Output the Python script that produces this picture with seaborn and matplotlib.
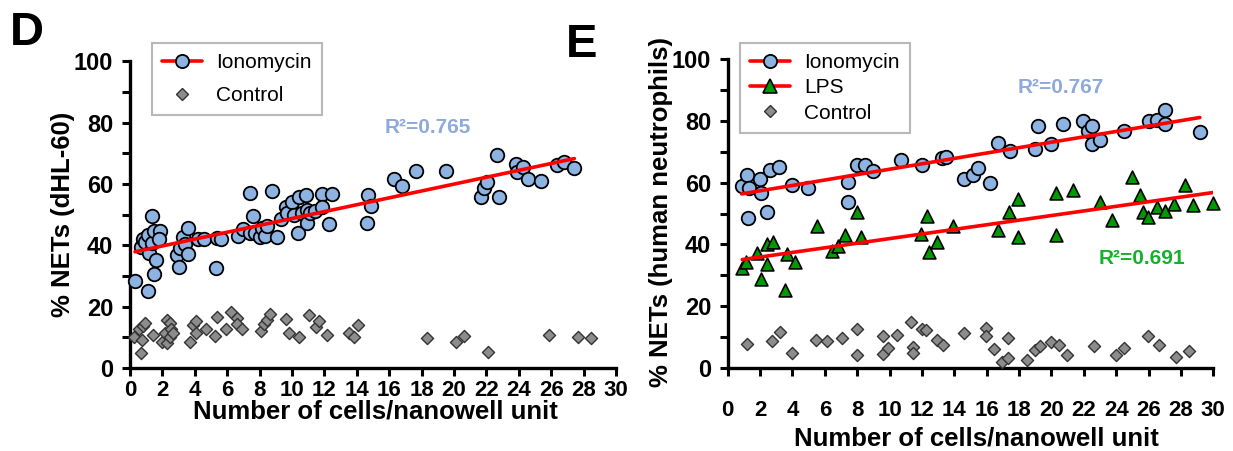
import numpy as np
import pandas as pd
import matplotlib
matplotlib.use("Agg")
import matplotlib.pyplot as plt
from matplotlib.lines import Line2D
import seaborn as sns

# ---- Panel D: dHL-60 cells ----
d_iono_x = [0.31, 0.66, 0.78, 0.93, 1.13, 1.19, 1.13, 1.34, 1.36, 1.50, 1.61, 1.50, 1.85, 1.81,
            2.92, 3.04, 3.09, 3.25, 3.40, 3.56, 3.60, 4.22, 4.57, 5.35, 5.62, 5.31, 6.69, 6.96,
            7.41, 7.57, 7.41, 7.72, 8.02, 8.13, 8.33, 8.44, 8.74, 9.09, 9.32, 9.61, 9.67, 9.98,
            10.12, 10.39, 10.45, 10.60, 10.86, 10.95, 10.95, 11.10, 11.42, 11.83, 11.87, 12.31,
            12.45, 14.61, 14.67, 14.88, 16.30, 16.77, 17.65, 19.49, 21.67, 21.87, 22.06, 22.63,
            22.78, 23.83, 23.87, 24.24, 24.55, 25.35, 26.34, 26.81, 27.43]
d_iono_y = [28.5, 39.3, 42.0, 41.2, 43.4, 37.6, 25.2, 40.6, 49.7, 44.8, 35.2, 30.5, 44.8, 42.1,
            36.8, 33.0, 39.0, 42.8, 40.5, 45.5, 37.2, 42.1, 42.1, 42.3, 42.1, 32.5, 43.0, 45.2,
            57.2, 49.6, 44.1, 44.1, 42.6, 45.5, 43.0, 46.3, 57.8, 42.6, 48.5, 52.4, 50.6, 54.2,
            49.9, 44.1, 55.6, 50.4, 56.4, 51.5, 47.4, 50.4, 51.3, 56.7, 52.6, 47.0,
            56.7, 47.4, 56.4, 52.8, 61.5, 59.3, 64.2, 64.2, 55.6, 58.6, 60.5, 69.4,
            55.6, 66.5, 64.0, 65.6, 61.5, 61.0, 66.2, 67.3, 65.1]

d_ctrl_x = [0.25, 0.58, 0.72, 0.78, 0.93, 0.66, 1.40, 1.96, 2.16, 2.26, 2.26, 2.47, 2.47, 2.51,
            2.68, 3.70, 3.87, 4.07, 4.07, 4.69, 5.25, 5.39, 5.93, 6.24, 6.63, 6.63, 6.90, 8.09,
            8.27, 8.44, 8.64, 9.63, 9.82, 10.45, 11.07, 11.48, 11.69, 12.18, 13.54, 13.83, 14.09,
            18.31, 20.10, 20.60, 22.08, 25.88, 27.67, 28.46]
d_ctrl_y = [10.0, 12.6, 9.1, 13.7, 14.6, 5.0, 10.8, 8.6, 11.3, 15.6, 8.1, 14.6, 10.2, 12.6,
            11.5, 8.6, 14.0, 15.3, 11.5, 12.8, 10.4, 16.7, 12.7, 18.4, 16.2, 14.4, 12.6, 12.2,
            14.4, 15.7, 17.6, 15.9, 11.5, 10.2, 17.3, 13.3, 15.3, 10.8, 11.5, 10.0, 14.0,
            9.7, 8.4, 10.4, 5.1, 10.8, 10.2, 9.9]

# ---- Panel E: human neutrophils ----
e_iono_x = [0.86, 1.17, 1.34, 1.23, 2.00, 2.04, 2.41, 2.61, 3.19, 3.95, 4.94, 7.45, 7.45, 7.97,
            8.48, 8.99, 10.69, 11.98, 13.22, 13.49, 14.61, 15.17, 15.48, 16.20, 16.72, 17.44,
            18.98, 19.19, 19.97, 20.73, 21.97, 22.23, 22.48, 22.48, 23.00, 24.48, 26.04, 26.50,
            27.01, 27.01, 29.17]
e_iono_y = [58.9, 62.4, 58.3, 48.5, 61.3, 56.7, 50.4, 64.0, 64.9, 59.3, 58.3, 60.2, 53.7, 65.6,
            65.6, 63.8, 67.3, 65.6, 67.8, 68.4, 61.0, 62.6, 64.8, 59.7, 72.7, 70.3,
            70.9, 78.4, 72.4, 79.0, 79.8, 76.7, 78.4, 72.4, 73.8, 76.8, 79.8, 80.3,
            83.6, 78.9, 76.3]

e_lps_x = [0.90, 1.10, 1.79, 2.06, 2.41, 2.41, 2.82, 3.54, 3.64, 4.16, 5.50, 6.42, 6.83, 7.25,
           7.97, 8.23, 11.94, 12.29, 12.43, 12.95, 13.94, 16.72, 17.38, 17.95, 17.95, 20.26,
           20.26, 21.31, 23.00, 23.72, 24.99, 25.47, 25.67, 25.98, 26.54, 27.01, 27.59, 28.25,
           28.72, 29.96]
e_lps_y = [32.5, 34.3, 37.2, 28.7, 33.6, 40.1, 40.7, 25.4, 36.8, 34.3, 45.9, 37.9, 39.6, 43.1,
           50.4, 42.3, 43.4, 49.1, 37.4, 40.9, 46.1, 44.7, 50.4, 54.8, 42.3, 56.6,
           43.0, 57.5, 53.7, 48.0, 61.8, 56.1, 50.4, 48.8, 52.1, 50.8, 53.1, 59.3,
           52.6, 53.5]

e_ctrl_x = [1.17, 2.72, 3.23, 3.95, 5.45, 6.15, 7.04, 7.97, 7.97, 9.61, 9.61, 9.92, 10.44, 11.32,
            11.47, 11.47, 11.98, 12.23, 12.95, 13.32, 14.61, 15.95, 15.95, 16.47, 16.93, 17.29,
            17.34, 18.47, 18.98, 19.29, 19.95, 20.48, 20.98, 22.65, 23.98, 24.48, 25.98, 26.66,
            27.69, 28.51]
e_ctrl_y = [7.7, 8.8, 11.6, 5.0, 9.1, 8.9, 9.9, 12.7, 4.2, 10.4, 4.6, 6.4, 10.8, 14.8,
            6.7, 4.8, 12.6, 12.4, 9.1, 7.5, 11.5, 12.9, 10.4, 6.1, 1.9, 9.7,
            3.2, 2.8, 5.9, 7.2, 8.6, 7.5, 4.2, 7.2, 4.2, 6.4, 10.5, 7.5,
            3.7, 5.5]

x_ticks = list(range(0, 31, 2))
y_ticks = [0, 20, 40, 60, 80, 100]
x_label = "Number of cells/nanowell unit"
d_ylabel = "% NETs (dHL-60)"
e_ylabel = "% NETs (human neutrophils)"
d_r2 = "R²=0.765"
e_r2_iono = "R²=0.767"
e_r2_lps = "R²=0.691"

BLUE = "#8DB3E2"
GREEN = "#009A00"
GRAY = "#8C8C8C"
RED = "#FF0000"
R2_BLUE = "#8EA9DB"
R2_GREEN = "#12B22A"

sns.set_style("ticks")
plt.rcParams["font.family"] = ["Liberation Sans", "DejaVu Sans"]
plt.rcParams.update({
    "text.color": "black",
    "axes.labelcolor": "black",
    "axes.edgecolor": "black",
    "xtick.color": "black",
    "ytick.color": "black",
})

fig = plt.figure(figsize=(12.33, 4.51), dpi=100)
axD = fig.add_axes([0.10543, 0.18404, 0.39416, 0.68004])
axE = fig.add_axes([0.5902, 0.1836, 0.3938, 0.6860])

CIRC = dict(marker="o", s=95, color=BLUE, edgecolor="black", linewidth=1.3)
TRI = dict(marker="^", s=85, color=GREEN, edgecolor="black", linewidth=1.2)
DIAM = dict(marker="D", s=38, color=GRAY, edgecolor="#333333", linewidth=1.0)


def scatter(ax, x, y, style):
    sns.scatterplot(x=x, y=y, ax=ax, legend=False, zorder=3, clip_on=False, **style)


def fit(ax, x, y):
    sns.regplot(x=x, y=y, ax=ax, scatter=False, ci=None, truncate=True,
                line_kws=dict(color=RED, lw=2.6, zorder=4))


scatter(axD, d_ctrl_x, d_ctrl_y, DIAM)
scatter(axD, d_iono_x, d_iono_y, CIRC)
fit(axD, d_iono_x, d_iono_y)

scatter(axE, e_ctrl_x, e_ctrl_y, DIAM)
scatter(axE, e_lps_x, e_lps_y, TRI)
scatter(axE, e_iono_x, e_iono_y, CIRC)
fit(axE, e_iono_x, e_iono_y)
fit(axE, e_lps_x, e_lps_y)

for ax, ylab in ((axD, d_ylabel), (axE, e_ylabel)):
    ax.set_xlim(0, 30)
    ax.set_ylim(0, 100)
    ax.set_xticks(x_ticks)
    ax.set_yticks(y_ticks)
    ax.set_yticks(range(10, 100, 20), minor=True)
    sns.despine(ax=ax)
    for s in ("left", "bottom"):
        ax.spines[s].set_linewidth(2.4)
    ax.tick_params(which="both", width=2.2, length=6, direction="out", color="black")
    ax.tick_params(axis="y", labelsize=17, pad=6)
    ax.set_xlabel(x_label, fontsize=18.5, fontweight="bold")
    ax.set_ylabel(ylab, fontsize=18.5, fontweight="bold")
    for lab in ax.get_xticklabels() + ax.get_yticklabels():
        lab.set_fontweight("bold")

axD.tick_params(axis="x", labelsize=16, pad=3)
axE.tick_params(axis="x", labelsize=16, pad=17)
axD.yaxis.set_label_coords(-0.114, 0.502)
axE.yaxis.set_label_coords(-0.113, 0.505)
axD.xaxis.set_label_coords(0.504, -0.104)
axE.xaxis.set_label_coords(0.513, -0.188)

axD.text(15.7, 78.3, d_r2, color=R2_BLUE, fontsize=15, fontweight="bold", va="center")
axE.text(17.9, 90.6, e_r2_iono, color=R2_BLUE, fontsize=15, fontweight="bold", va="center")
axE.text(22.9, 35.6, e_r2_lps, color=R2_GREEN, fontsize=15, fontweight="bold", va="center")

h_iono = Line2D([], [], color=RED, lw=2.6, marker="o", markersize=9.5,
                markerfacecolor=BLUE, markeredgecolor="black", markeredgewidth=1.3)
h_lps = Line2D([], [], color=RED, lw=2.6, marker="^", markersize=9.5,
               markerfacecolor=GREEN, markeredgecolor="black", markeredgewidth=1.2)
h_ctrl = Line2D([], [], lw=0, marker="D", markersize=6,
                markerfacecolor=GRAY, markeredgecolor="#333333", markeredgewidth=1.0)

leg_kw = dict(loc="upper left", fontsize=15, frameon=True, fancybox=False,
              edgecolor="#A6A6A6", handlelength=1.9, handletextpad=0.7,
              borderpad=0.5, borderaxespad=0)
legD = axD.legend([h_iono, h_ctrl], ["Ionomycin", "Control"],
                  bbox_to_anchor=(0.045, 1.06), labelspacing=0.65, **leg_kw)
legE = axE.legend([h_iono, h_lps, h_ctrl], ["Ionomycin", "LPS", "Control"],
                  bbox_to_anchor=(0.025, 1.052), labelspacing=0.3, **leg_kw)
for leg in (legD, legE):
    leg.get_frame().set_linewidth(1.5)
    leg.set_zorder(5)

fig.text(10 / 1233, 1 - 11 / 451, "D", fontsize=34, fontweight="bold", va="top", ha="left")
fig.text(566 / 1233, 1 - 23 / 451, "E", fontsize=34, fontweight="bold", va="top", ha="left")

fig.savefig("out.png", dpi=100)
